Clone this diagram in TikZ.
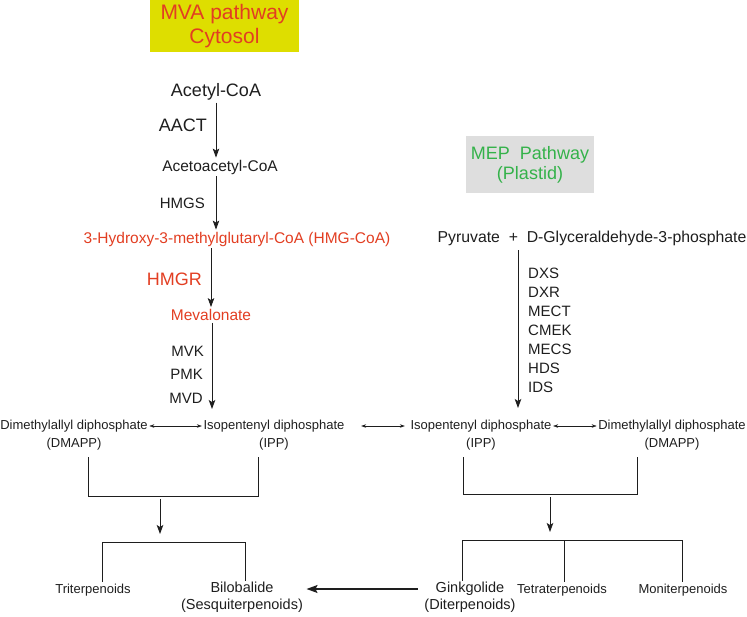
\documentclass[tikz,border=0pt]{standalone}
\usepackage{fontspec}
\setmainfont{Liberation Sans}
\usepackage{xcolor}
\usetikzlibrary{arrows.meta, positioning}
\definecolor{mvared}{RGB}{226,62,34}
\definecolor{mvayellow}{RGB}{222,222,0}
\definecolor{mepgreen}{RGB}{52,178,74}
\definecolor{mepgrey}{RGB}{222,222,222}
\definecolor{ink}{RGB}{30,30,30}

\tikzset{
    met/.style   = {inner sep=2pt, text=ink, font=\fontsize{15.5}{18}\selectfont},
    iso/.style   = {inner sep=1.5pt, align=center, text=ink, font=\fontsize{13}{18}\selectfont},
    prod/.style  = {inner sep=1.5pt, align=center, text=ink, font=\fontsize{14.5}{17}\selectfont},
    enz/.style   = {inner sep=1pt, text=ink, font=\fontsize{15}{19}\selectfont},
    rxn/.style   = {draw=ink, line width=0.8pt, -{Stealth[length=9pt,width=6.5pt,inset=2pt]}},
    conv/.style  = {draw=ink, line width=0.4pt, {Stealth[length=5pt,width=3.5pt]}-{Stealth[length=5pt,width=3.5pt]}},
    branch/.style= {draw=ink, line width=0.7pt},
}

\begin{document}
\begin{tikzpicture}[x=1pt, y=-1pt]
    \useasboundingbox (0,0) rectangle (747,616);
        \node (mva)   [fill=mvayellow, text=mvared, align=center, minimum width=149pt, minimum height=52pt,
                       font=\fontsize{21}{24}\selectfont] at (224.5,26) {MVA pathway\\Cytosol};
        \node (mep)   [fill=mepgrey, text=mepgreen, align=center, minimum width=128pt, minimum height=57pt,
                       font=\fontsize{18}{20}\selectfont] at (530,164.5) {MEP~~Pathway\\(Plastid)};
        \node (acetyl) [met, font=\fontsize{18}{20}\selectfont] at (216,92)  {Acetyl-CoA};
        \node (acac)   [met]                 at (220,167) {Acetoacetyl-CoA};
        \node (hmg)    [met, text=mvared]    at (237,239) {3-Hydroxy-3-methylglutaryl-CoA (HMG-CoA)};
        \node (meva)   [met, text=mvared]    at (211,315) {Mevalonate};
        \node (pyr)    [met, font=\fontsize{15.8}{18}\selectfont] at (592,238) {Pyruvate~~+~~D-Glyceraldehyde-3-phosphate};
        \node (aact)  [enz, anchor=east, font=\fontsize{18}{20}\selectfont] at (208,125) {AACT};
        \node (hmgs)  [enz, anchor=east]     at (206,203) {HMGS};
        \node (hmgr)  [enz, anchor=east, text=mvared, font=\fontsize{18}{20}\selectfont] at (203,279) {HMGR};
        \node (mvk)   [enz, anchor=east]     at (205,351) {MVK};
        \node (pmk)   [enz, anchor=east]     at (204,374) {PMK};
        \node (mvd)   [enz, anchor=east]     at (204,398) {MVD};
        \node (mepenz)[enz, anchor=west, align=left] at (527,330.5) {DXS\\DXR\\MECT\\CMEK\\MECS\\HDS\\IDS};
        \node (dmappL) [iso] at (74,435)  {Dimethylallyl diphosphate\\(DMAPP)};
        \node (ippL)   [iso] at (274,435) {Isopentenyl diphosphate\\(IPP)};
        \node (ippR)   [iso] at (481,435) {Isopentenyl diphosphate\\(IPP)};
        \node (dmappR) [iso] at (672,435) {Dimethylallyl diphosphate\\(DMAPP)};
        \node (tri)   [iso]  at (93,590)    {Triterpenoids};
        \node (bilo)  [prod] at (242,597.5) {Bilobalide\\(Sesquiterpenoids)};
        \node (gink)  [prod] at (470,597.5) {Ginkgolide\\(Diterpenoids)};
        \node (tetra) [iso]  at (562,590)   {Tetraterpenoids};
        \node (moni)  [iso]  at (683,590)   {Moniterpenoids};
        \coordinate (mevaEnd) at (212,409);
        \coordinate (mepTop)  at (518,250);
        \coordinate (mepEnd)  at (518,408);
        \coordinate (bl1) at (88,457);   \coordinate (bl2) at (88,496);
        \coordinate (bl3) at (258,496);  \coordinate (bl4) at (258,457);
        \coordinate (br1) at (463,457);  \coordinate (br2) at (463,494);
        \coordinate (br3) at (637,494);  \coordinate (br4) at (637,457);
        \coordinate (dl1) at (160,499);  \coordinate (dl2) at (160,534);
        \coordinate (dr1) at (550,497);  \coordinate (dr2) at (550,532);
        \coordinate (tl)  at (102,542);  \coordinate (tr)  at (245,542);
        \coordinate (ul)  at (462,540);  \coordinate (um)  at (564,540);  \coordinate (ur) at (682,540);
        \draw[rxn] (acetyl.south) -- (acetyl.south |- acac.north);
        \draw[rxn] (acetyl.south |- acac.south) -- (acetyl.south |- hmg.north);
        \draw[rxn] (meva.north |- hmg.south) -- (meva.north);
        \draw[rxn] (meva.south -| mevaEnd) -- (mevaEnd);
        \draw[rxn] (mepTop) -- (mepEnd);
        \draw[conv] ([yshift=9pt]dmappL.east) -- ([yshift=9pt]ippL.west);
        \draw[conv, line width=0.6pt] ([yshift=9pt, xshift=15pt]ippL.east) -- ([yshift=9pt, xshift=-4pt]ippR.west);
        \draw[conv] ([yshift=9pt]ippR.east) -- ([yshift=9pt]dmappR.west);
        \draw[branch] (bl1) -- (bl2) -- (bl3) -- (bl4);
        \draw[branch] (br1) -- (br2) -- (br3) -- (br4);
        \draw[rxn] (dl1) -- (dl2);
        \draw[rxn] (dr1) -- (dr2);
        \draw[branch] (tl |- tri.north) -- (tl) -- (tr) -- (tr |- bilo.north);
        \draw[branch] (ul |- gink.north) -- (ul) -- (ur) -- (ur |- moni.north);
        \draw[branch] (um) -- (um |- tetra.north);
        \draw[draw=ink, line width=1.3pt, -{Stealth[length=11pt,width=8pt,inset=2pt]}] ([yshift=8.5pt, xshift=-5pt]gink.west) -- ([yshift=8.5pt, xshift=2pt]bilo.east);
\end{tikzpicture}
\end{document}
